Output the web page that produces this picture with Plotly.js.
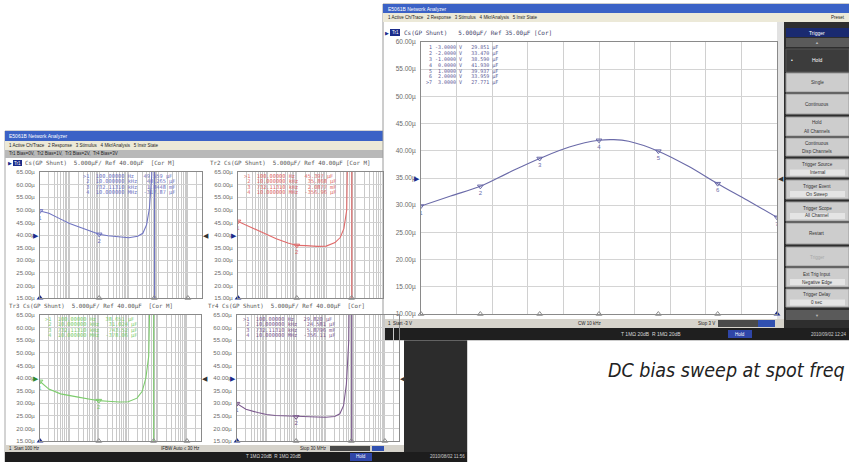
<!DOCTYPE html>
<html>
<head>
<meta charset="utf-8">
<script src="https://cdn.plot.ly/plotly-3.0.1.min.js"></script>
<style>
  html, body { margin: 0; padding: 0; background: #fff; }
  #chart { width: 849px; height: 462px; }
</style>
</head>
<body>
<div id="chart"></div>
<script>

// right screen: DC bias sweep, Cs at CW 10 kHz
const biasVolts = [-3, -2.5, -2, -1.5, -1, -0.5, 0, 0.25, 0.5, 1, 1.5, 2, 2.5, 3];
const biasCs = [29.851, 31.7, 33.47, 36.1, 38.59, 40.7, 41.93, 42.05, 41.75, 39.937, 37.2, 33.959, 30.9, 27.771];
const biasMkrVolts = [-3, -2, -1, 0, 1, 2, 3];
const biasMkrCs = [29.851, 33.470, 38.590, 41.930, 39.937, 33.959, 27.771];
const biasMkrText = ['-3.0000 V', '-2.0000 V', '-1.0000 V', ' 0.0000 V', ' 1.0000 V', ' 2.0000 V', ' 3.0000 V'];

// left screen: frequency sweeps 100 Hz .. 30 MHz, one trace per DC bias
const freqHz = [100, 200, 500, 1e3, 2e3, 5e3, 1e4, 2e4, 5e4, 1e5, 2e5, 3e5, 4e5, 5e5, 6e5, 7e5, 732113.1, 7.6e5, 1e6, 3e6, 1e7, 3e7];
const csBias0V = [49.56, 48.6, 46.3, 44.6, 43.3, 41.6, 40.27, 39.7, 39.2, 38.9, 39.5, 40.7, 44.0, 50.5, 63.7, 150, 1844.8, -2200, -900, -420, -317.87, -290];
const csBias1V = [45.40, 43.8, 41.5, 39.8, 38.5, 36.8, 35.87, 35.8, 35.5, 35.6, 37.0, 39.0, 42.5, 49.9, 64.6, 170, 2087.7, -2500, -1000, -480, -356.96, -320];
const csBias2V = [38.65, 35.6, 33.7, 32.9, 32.4, 31.6, 31.02, 30.8, 30.5, 30.6, 32.0, 34.7, 40.0, 48.7, 62.0, 140, 743.52, -2300, -950, -450, -378.06, -330];
const csBias3V = [29.82, 27.6, 26.3, 25.5, 25.1, 24.9, 24.58, 24.6, 24.5, 24.4, 24.7, 25.8, 29.0, 37.6, 54.7, 130, 5879.6, -2400, -980, -470, -356.11, -310];
const mkrFreqHz = [100, 1e4, 732113.1, 1e7];
const mkrFreqText = ['100.00000 Hz', '10.000000 kHz', '732.11310 kHz', '10.000000 MHz'];
const mkrBias0V = ['49.559 µF', '40.265 µF', '1.8448 mF', '-317.87 µF'];
const mkrBias1V = ['45.397 µF', '35.868 µF', '2.0877 mF', '-356.96 µF'];
const mkrBias2V = ['38.651 µF', '31.024 µF', '743.52 µF', '-378.06 µF'];
const mkrBias3V = ['29.820 µF', '24.581 µF', '5.8796 mF', '-356.11 µF'];

const softkeys = ['Single', 'Continuous', 'Hold|All Channels', 'Continuous|Disp Channels',
  'Trigger Source|Internal', 'Trigger Event|On Sweep', 'Trigger Scope|All Channel', 'Restart',
  'Trigger', 'Ext Trig Input|Negative Edge', 'Trigger Delay|0 sec'];

// ---- helpers, all geometry in screen pixels ----
const W = 849, H = 462;
const X = p => p / W;
const Y = p => 1 - p / H;
const MONO = 'DejaVu Sans Mono, monospace';
const SANS = 'Liberation Sans, Arial, sans-serif';

let shapes = [];
let annotations = [];

function rect(x0, y0, x1, y1, fill, line) {
  shapes.push({
    type: 'rect', xref: 'paper', yref: 'paper', layer: 'below',
    x0: X(x0), x1: X(x1), y0: Y(y1), y1: Y(y0),
    fillcolor: fill, line: {width: line ? 1 : 0, color: line || fill}
  });
}

function label(x, y, text, size, color, anchor, family) {
  annotations.push({
    xref: 'paper', yref: 'paper', x: X(x), y: Y(y), text: text,
    showarrow: false, xanchor: anchor || 'left', yanchor: 'middle', borderpad: 0,
    font: {family: family || SANS, size: size, color: color}
  });
}

function refArrows(xa, ya, ref, color, both) {
  annotations.push({xref: xa + ' domain', yref: ya, x: 0, y: ref, text: '▶', showarrow: false,
    xanchor: 'right', yanchor: 'middle', borderpad: 0, font: {size: 7, color: color}});
  if (both) {
    annotations.push({xref: xa + ' domain', yref: ya, x: 1, y: ref, text: '◀', showarrow: false,
      xanchor: 'left', yanchor: 'middle', borderpad: 0, font: {size: 7, color: '#333'}});
  }
}

let traces = [];

function sweep(xa, ya, xs, ys, color, mkX, mkY, active, range) {
  const xn = xa.replace('axis', ''), yn = ya.replace('axis', '');
  traces.push({x: xs, y: ys, xaxis: xn, yaxis: yn, mode: 'lines',
    line: {color: color, width: 1.1}, hoverinfo: 'skip'});
  // only markers that fall inside the screen are drawn by the analyzer
  const xv = mkX.map(v => range.log ? Math.log10(v) : v);
  const onX = mkX.map((v, i) => i).filter(i => xv[i] <= range.hi + 1e-9);
  const onScreen = onX.filter(i => mkY[i] >= range.lo && mkY[i] <= range.top);
  traces.push({x: onScreen.map(i => mkX[i]), y: onScreen.map(i => mkY[i]), xaxis: xn, yaxis: yn,
    mode: 'markers+text',
    marker: {symbol: 'triangle-down-open', size: 5, color: color, line: {width: 1}},
    text: onScreen.map(i => String(i + 1)), textposition: 'bottom center',
    textfont: {family: SANS, size: 6, color: color}, hoverinfo: 'skip'});
  const passive = onX.filter(i => i !== active);
  traces.push({x: passive.map(i => mkX[i]), y: passive.map(() => range.lo), xaxis: xn, yaxis: yn,
    mode: 'markers', cliponaxis: false,
    marker: {symbol: 'triangle-up-open', size: 5, color: '#8c8c8c', line: {width: 1}}, hoverinfo: 'skip'});
  traces.push({x: [mkX[active]], y: [range.lo], xaxis: xn, yaxis: yn, mode: 'markers', cliponaxis: false,
    marker: {symbol: 'triangle-up', size: 6, color: '#1b2c8a'}, hoverinfo: 'skip'});
}

// ================= left screenshot (4 frequency sweeps) =================
rect(5, 131, 467, 462, '#ffffff', '#a8a8a8');
rect(5, 131, 467, 141, '#3b62c6');
rect(5, 141, 467, 150, '#ece9d8');
rect(5, 150, 404, 158, '#b9b9b9');
rect(404, 150, 467, 452, '#2c2c2c');
rect(5, 445, 404, 452, '#d6d3cb');
rect(5, 452, 467, 462, '#1d1d1d');
rect(330, 446, 370, 451, '#4a4a4a');
rect(372, 446, 384, 451, '#3050b0');
rect(350, 453, 372, 461, '#2f46a8');
label(8, 136, 'E5061B Network Analyzer', 5, '#ffffff');
label(8, 145.5, '1 Active Ch/Trace&nbsp;&nbsp; 2 Response&nbsp;&nbsp; 3 Stimulus&nbsp;&nbsp; 4 Mkr/Analysis&nbsp;&nbsp; 5 Instr State', 4.5, '#222');
label(8, 154, 'Tr1 Bias=0V,&nbsp; Tr2 Bias=1V,&nbsp; Tr3 Bias=2V,&nbsp; Tr4 Bias=3V', 4.5, '#222');
label(8, 448.5, '1&nbsp; Start 100 Hz', 4.5, '#222');
label(160, 448.5, 'IFBW Auto ≤ 30 Hz', 4.5, '#222');
label(328, 448.5, 'Stop 30 MHz', 4.5, '#222', 'right');
label(245, 456.5, 'T 1MΩ 20dB&nbsp; R 1MΩ 20dB', 4.6, '#d8d8d8');
label(361, 456.5, 'Hold', 4.5, '#ffffff', 'center');
label(466, 456.5, '2010/08/02 11:56', 4.5, '#cfcfcf', 'right');

// panel headers
rect(13, 160, 22, 166, '#1b2c8a');
label(7, 163, '▶', 5, '#1b2c8a');
label(17.5, 163, 'Tr1', 4.5, '#ffffff', 'center');
label(24, 163, 'Cs(GP Shunt)&nbsp; 5.000µF/ Ref 40.00µF&nbsp; [Cor M]', 5.8, '#555', 'left', MONO);
label(209, 163, 'Tr2 Cs(GP Shunt)&nbsp; 5.000µF/ Ref 40.00µF [Cor M]', 5.8, '#555', 'left', MONO);
label(8, 306, 'Tr3 Cs(GP Shunt)&nbsp; 5.000µF/ Ref 40.00µF&nbsp; [Cor M]', 5.8, '#555', 'left', MONO);
label(207, 306, 'Tr4 Cs(GP Shunt)&nbsp; 5.000µF/ Ref 40.00µF&nbsp; [Cor]', 5.8, '#555', 'left', MONO);

// ================= right screenshot (DC bias sweep) =================
rect(383, 4, 849, 340, '#ffffff', '#9a9a9a');
rect(383, 4, 849, 13, '#3b62c6');
rect(383, 13, 849, 22, '#ece9d8');
rect(777, 22, 784, 319, '#e2e2e2');
rect(784, 22, 849, 333, '#2e2e2e');
rect(383, 319, 784, 328, '#d6d3cb');
rect(383, 328, 849, 340, '#1f1f1f');
rect(718, 320, 758, 327, '#4a4a4a');
rect(758, 320, 775, 327, '#3050b0');
rect(728, 330, 752, 338, '#2f46a8');
label(387, 8.5, 'E5061B Network Analyzer', 5, '#ffffff');
label(387, 17.5, '1 Active Ch/Trace&nbsp;&nbsp; 2 Response&nbsp;&nbsp; 3 Stimulus&nbsp;&nbsp; 4 Mkr/Analysis&nbsp;&nbsp; 5 Instr State', 4.5, '#222');
label(846, 17.5, 'Preset', 4.5, '#222', 'right');
rect(390, 29, 400, 36, '#1b2c8a');
label(384, 32.5, '▶', 5, '#1b2c8a');
label(395, 32.5, 'Tr1', 4.5, '#ffffff', 'center');
label(403, 32.5, 'Cs(GP Shunt)&nbsp;&nbsp; 5.000µF/ Ref 35.00µF [Cor]', 6, '#44446a', 'left', MONO);
label(387, 323.5, '1&nbsp; Start -3 V', 4.5, '#222');
label(590, 323.5, 'CW 10 kHz', 4.5, '#222', 'center');
label(716, 323.5, 'Stop 3 V', 4.5, '#222', 'right');
label(620, 334, 'T 1MΩ 20dB&nbsp; R 1MΩ 20dB', 5, '#d8d8d8');
label(740, 334, 'Hold', 4.5, '#ffffff', 'center');
label(848, 334, '2010/09/02 12:24', 4.5, '#cfcfcf', 'right');

// softkey column
rect(786, 28, 849, 37, '#1a2a70');
label(817, 32.5, 'Trigger', 5, '#ffffff', 'center');
rect(786, 38, 849, 47, '#5a5a5a');
label(817, 42.5, '▲', 4, '#bbbbbb', 'center');
rect(786, 49, 849, 72, '#3c3c3c', '#555');
label(790, 60.5, '•', 5, '#ffffff');
label(817, 60.5, 'Hold', 5, '#ffffff', 'center');
const keyTops = [73, 94, 117, 138, 159, 180, 202, 223, 247, 268, 289];
const keyBots = [93, 115, 137, 157, 178, 200, 222, 245, 267, 288, 308];
softkeys.forEach((k, i) => {
  rect(786, keyTops[i], 849, keyBots[i] - 1, '#cdcdcd', '#9a9a9a');
  const parts = k.split('|');
  const mid = (keyTops[i] + keyBots[i]) / 2;
  const col = k === 'Trigger' ? '#a8a8a8' : '#333';
  if (parts.length === 1) {
    label(817, mid, parts[0], 4.6, col, 'center');
  } else {
    label(817, mid - 4, parts[0], 4.6, col, 'center');
    if (i >= 4) rect(790, mid + 1, 845, mid + 7, '#e4e4e4');
    label(817, mid + 4, parts[1], 4.6, col, 'center');
  }
});
rect(786, 310, 849, 320, '#5a5a5a');
label(817, 315, '▼', 4, '#bbbbbb', 'center');

// marker tables
biasMkrText.forEach((v, i) => {
  const t = (i === 6 ? '&gt;' : '&nbsp;') + (i + 1) + '&nbsp;' + v.replace(/ /g, '&nbsp;') +
    '&nbsp;&nbsp;&nbsp;' + biasMkrCs[i].toFixed(3) + '&nbsp;µF';
  label(425, 47.5 + i * 5.9, t, 5, '#5a5a96', 'left', MONO);
});

function leftTable(x0, y0, vals, color) {
  vals.forEach((v, i) => {
    const t = (i === 0 ? '&gt;' : '&nbsp;') + (i + 1) + '&nbsp;&nbsp;' + mkrFreqText[i] + '&nbsp;&nbsp;' +
      ('&nbsp;'.repeat(Math.max(0, 10 - v.length))) + v;
    label(x0, y0 + i * 5.6, t, 5.3, color, 'left', MONO);
  });
}

const cMain = '#6a6aa8', c0 = '#6f74c2', c1 = '#e06a6a', c2 = '#7ccc6c', c3 = '#7c5a8e';
leftTable(82, 176, mkrBias0V, c0);
leftTable(243, 176, mkrBias1V, c1);
leftTable(44, 319, mkrBias2V, c2);
leftTable(242, 319, mkrBias3V, c3);

// caption
annotations.push({xref: 'paper', yref: 'paper', x: X(847), y: Y(370), text: 'DC bias sweep at spot freq',
  showarrow: false, xanchor: 'right', yanchor: 'middle',
  font: {family: 'Liberation Sans Narrow, DejaVu Sans Condensed, Roboto, sans-serif', size: 19.5, color: '#222', style: 'italic'}});

// ---- axes ----
const logTicks = [];
for (let d = 2; d <= 7; d++) for (let m = 1; m <= 9; m++) logTicks.push(m * Math.pow(10, d));
const fLo = 2, fHi = Math.log10(3e7);
const fHiClip = fLo + (383 - 238) / (399 - 238) * (fHi - fLo);

function linX(dom, range, anchor) {
  return {domain: dom, range: range, anchor: anchor, dtick: (range[1] - range[0]) / 10, tick0: range[0],
    showticklabels: false, ticks: '', showgrid: true, gridcolor: '#d0d0d0', gridwidth: 1,
    zeroline: false, showline: true, mirror: true, linecolor: '#8a8a8a', linewidth: 1, fixedrange: true};
}
function logX(dom, hi, anchor) {
  return {type: 'log', domain: dom, range: [fLo, hi], anchor: anchor, tickmode: 'array', tickvals: logTicks,
    showticklabels: false, ticks: '', showgrid: true, gridcolor: '#c9c9c9', gridwidth: 1,
    zeroline: false, showline: true, mirror: true, linecolor: '#8a8a8a', linewidth: 1, fixedrange: true};
}
function capY(dom, range, anchor, size) {
  return {domain: dom, range: range, anchor: anchor, dtick: 5, tick0: range[0], tickformat: '.2f', ticksuffix: 'µ',
    ticks: '', ticklabelstandoff: 3, tickfont: {family: SANS, size: size, color: '#6a6a6a'},
    showgrid: true, gridcolor: '#d0d0d0', zeroline: false, showline: true, mirror: true,
    linecolor: '#8a8a8a', linewidth: 1, fixedrange: true};
}

const layout = {
  width: W, height: H,
  margin: {l: 0, r: 0, t: 0, b: 0},
  paper_bgcolor: '#ffffff', plot_bgcolor: 'rgba(0,0,0,0)',
  showlegend: false,
  xaxis: linX([X(421), X(777)], [-3, 3], 'y'),
  yaxis: capY([Y(314), Y(42)], [10, 60], 'x', 6.5),
  xaxis2: logX([X(40), X(202)], fHi, 'y2'),
  yaxis2: capY([Y(298), Y(172)], [15, 65], 'x2', 6),
  xaxis3: logX([X(238), X(383)], fHiClip, 'y3'),
  yaxis3: capY([Y(298), Y(172)], [15, 65], 'x3', 6),
  xaxis4: logX([X(40), X(201)], fHi, 'y4'),
  yaxis4: capY([Y(441), Y(315)], [15, 65], 'x4', 6),
  xaxis5: logX([X(237), X(399)], fHi, 'y5'),
  yaxis5: capY([Y(441), Y(315)], [15, 65], 'x5', 6),
  shapes: shapes,
  annotations: annotations
};
layout.yaxis.gridcolor = '#d4d4d4';

// ---- traces ----
sweep('xaxis', 'yaxis', biasVolts, biasCs, cMain, biasMkrVolts, biasMkrCs, 6, {lo: 10, top: 60, hi: 3, log: false});
traces[0].line.shape = 'spline';
const mkrIdx = mkrFreqHz.map(f => freqHz.indexOf(f));
[[csBias0V, c0, 2, fHi], [csBias1V, c1, 3, fHiClip], [csBias2V, c2, 4, fHi], [csBias3V, c3, 5, fHi]]
  .forEach(([cs, col, n, hi]) => {
    sweep('xaxis' + n, 'yaxis' + n, freqHz, cs, col, mkrFreqHz, mkrIdx.map(i => cs[i]), 0,
      {lo: 15, top: 65, hi: hi, log: true});
  });

refArrows('x', 'y', 35, '#1b2c8a', true);
refArrows('x2', 'y2', 40, '#1b2c8a', true);
refArrows('x3', 'y3', 40, '#1b2c8a', false);
refArrows('x4', 'y4', 40, '#2f8a2f', true);
refArrows('x5', 'y5', 40, '#1b2c8a', true);

Plotly.newPlot('chart', traces, layout, {staticPlot: true, displayModeBar: false});
</script>
</body>
</html>
